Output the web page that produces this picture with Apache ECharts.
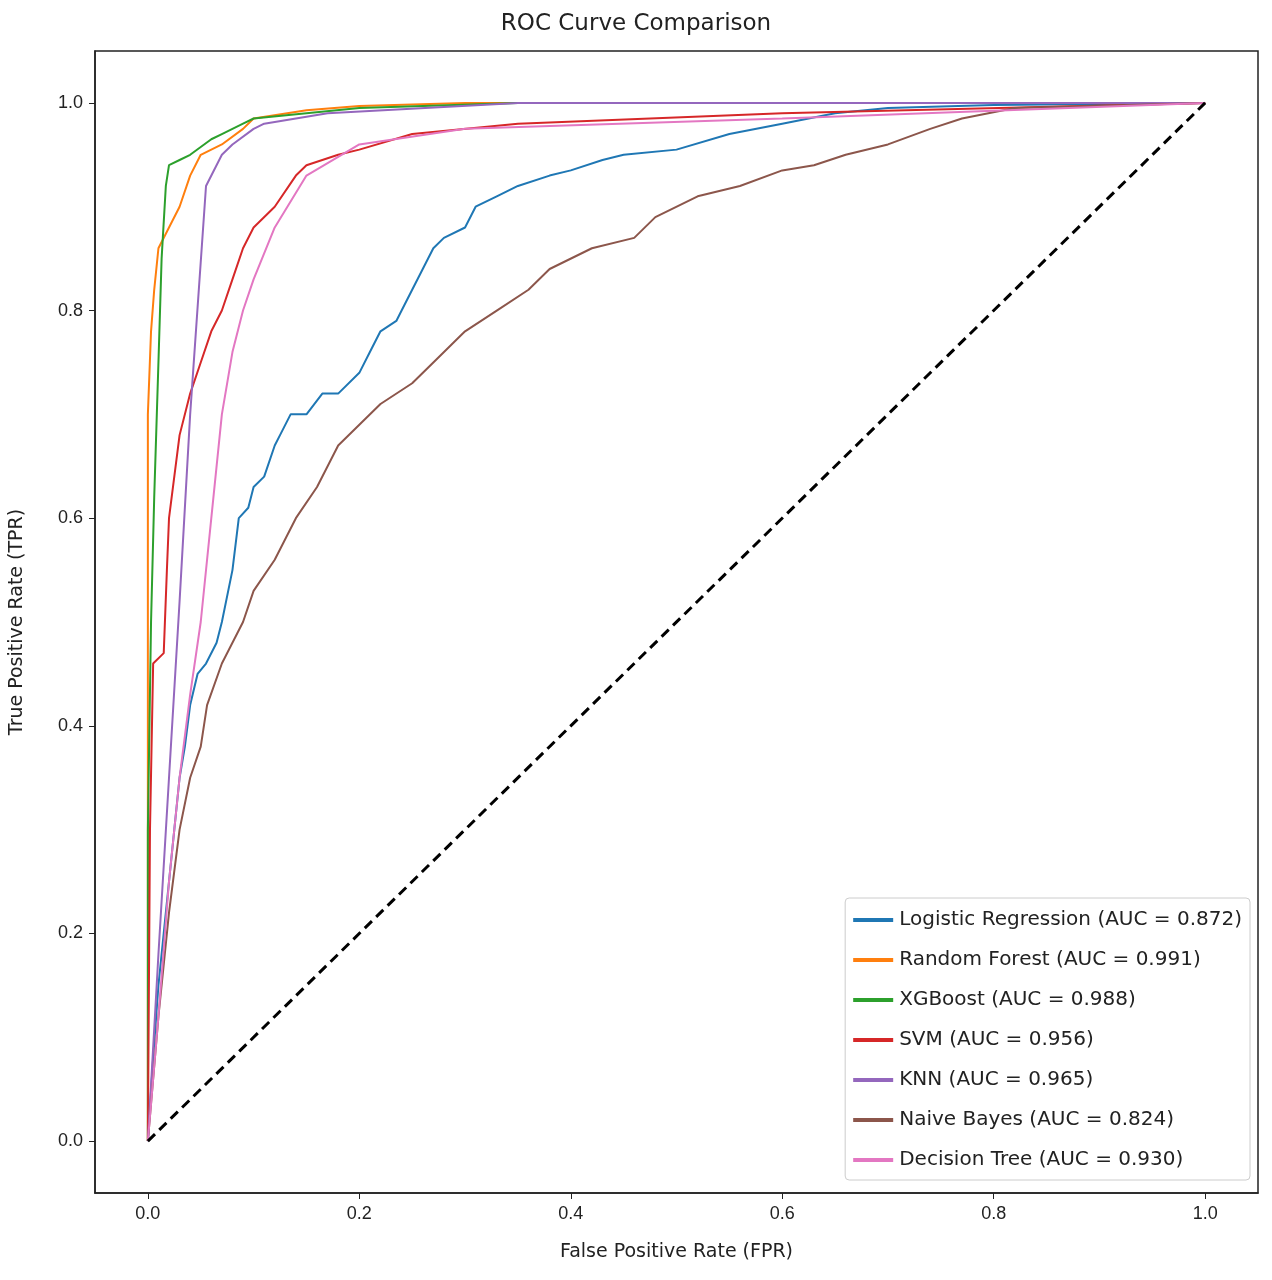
<!DOCTYPE html>
<html><head><meta charset="utf-8">
<script src="https://cdn.jsdelivr.net/npm/echarts@6/dist/echarts.min.js"></script>
<style>html,body{margin:0;padding:0;background:#fff}#c{width:1272px;height:1280px}</style>
</head><body><div id="c"></div>
<script>
const names = ["Logistic Regression (AUC = 0.872)","Random Forest (AUC = 0.991)","XGBoost (AUC = 0.988)","SVM (AUC = 0.956)","KNN (AUC = 0.965)","Naive Bayes (AUC = 0.824)","Decision Tree (AUC = 0.930)"];
const colors = ["#1f77b4","#ff7f0e","#2ca02c","#d62728","#9467bd","#8c564b","#e377c2"];
const lrFPR = [0,0.005,0.01,0.015,0.02,0.025,0.03,0.035,0.04,0.047,0.055,0.065,0.07,0.08,0.086,0.095,0.1,0.11,0.12,0.125,0.135,0.15,0.165,0.18,0.2,0.21,0.22,0.235,0.24,0.25,0.26,0.27,0.28,0.3,0.31,0.33,0.35,0.38,0.4,0.43,0.45,0.5,0.55,0.6,0.65,0.7,0.8,1];
const lrTPR = [0,0.08,0.15,0.2,0.25,0.3,0.35,0.38,0.42,0.45,0.46,0.48,0.5,0.55,0.6,0.61,0.63,0.64,0.67,0.68,0.7,0.7,0.72,0.72,0.74,0.76,0.78,0.79,0.8,0.82,0.84,0.86,0.87,0.88,0.9,0.91,0.92,0.93,0.935,0.945,0.95,0.955,0.97,0.98,0.99,0.995,0.998,1];
const rfFPR = [0,0,0.003,0.006,0.01,0.02,0.03,0.04,0.05,0.07,0.09,0.1,0.15,0.2,0.3,1];
const rfTPR = [0,0.7,0.78,0.82,0.86,0.88,0.9,0.93,0.95,0.96,0.975,0.985,0.993,0.997,1,1];
const xgFPR = [0,0,0.003,0.006,0.01,0.013,0.017,0.02,0.03,0.04,0.06,0.07,0.09,0.1,0.15,0.2,0.35,1];
const xgTPR = [0,0.3,0.5,0.62,0.75,0.85,0.92,0.94,0.945,0.95,0.965,0.97,0.98,0.985,0.99,0.995,1,1];
const svFPR = [0,0.002,0.005,0.015,0.018,0.02,0.03,0.04,0.05,0.06,0.07,0.08,0.09,0.1,0.12,0.14,0.15,0.18,0.2,0.25,0.35,0.6,1];
const svTPR = [0,0.3,0.46,0.47,0.55,0.6,0.68,0.72,0.75,0.78,0.8,0.83,0.86,0.88,0.9,0.93,0.94,0.95,0.955,0.97,0.98,0.99,1];
const knFPR = [0,0.01,0.02,0.03,0.04,0.055,0.07,0.08,0.1,0.11,0.17,0.35,1];
const knTPR = [0,0.18,0.35,0.52,0.7,0.92,0.95,0.96,0.975,0.98,0.99,1,1];
const nbFPR = [0,0.01,0.02,0.03,0.04,0.05,0.056,0.07,0.09,0.1,0.12,0.14,0.16,0.18,0.2,0.22,0.25,0.27,0.3,0.33,0.36,0.38,0.42,0.46,0.48,0.52,0.56,0.6,0.63,0.66,0.7,0.74,0.77,0.82,1];
const nbTPR = [0,0.12,0.22,0.3,0.35,0.38,0.42,0.46,0.5,0.53,0.56,0.6,0.63,0.67,0.69,0.71,0.73,0.75,0.78,0.8,0.82,0.84,0.86,0.87,0.89,0.91,0.92,0.935,0.94,0.95,0.96,0.975,0.985,0.995,1];
const dtFPR = [0,0.01,0.02,0.03,0.04,0.05,0.06,0.07,0.08,0.09,0.1,0.12,0.15,0.2,0.3,0.6,1];
const dtTPR = [0,0.12,0.25,0.35,0.43,0.5,0.6,0.7,0.76,0.8,0.83,0.88,0.93,0.96,0.975,0.985,1];
const xs=[lrFPR,rfFPR,xgFPR,svFPR,knFPR,nbFPR,dtFPR], ys=[lrTPR,rfTPR,xgTPR,svTPR,knTPR,nbTPR,dtTPR];
const xTicks=[0,0.2,0.4,0.6,0.8,1.0];
const series = names.map((n,i)=>({name:n,type:'line',showSymbol:false,color:colors[i],lineStyle:{width:2,color:colors[i]},data:xs[i].map((x,j)=>[x,ys[i][j]])}));
series.push({name:'chance',type:'line',showSymbol:false,lineStyle:{color:'#000',width:3,type:[10,6]},data:[[0,0],[1,1]]});
const ch=echarts.init(document.getElementById('c'));
const ax=(name,gap)=>({type:'value',min:-0.05,max:1.05,name,nameLocation:'middle',nameGap:gap,nameTextStyle:{fontSize:19,color:'#222',fontFamily:'DejaVu Sans'},
   splitLine:{show:false},axisLine:{show:true,onZero:false,lineStyle:{color:'#222',width:1.5}},axisTick:{show:true,inside:false,customValues:xTicks,length:6,lineStyle:{color:'#222'}},
   axisLabel:{customValues:xTicks,fontSize:18,color:'#222',margin:12,formatter:v=>v.toFixed(1)}});
ch.setOption({
 animation:false,
 title:{text:'ROC Curve Comparison',left:'center',top:8,textStyle:{fontFamily:'DejaVu Sans',fontWeight:'normal',fontSize:23,color:'#222'}},
 grid:{left:88,right:14,top:51,bottom:87,show:true,borderColor:'#222',borderWidth:1.5},
 xAxis:ax('False Positive Rate (FPR)',50),
 yAxis:ax('True Positive Rate (TPR)',68),
 legend:{data:names.map((n,i)=>({name:n,icon:'path://M0,0H40V4H0Z',itemStyle:{color:colors[i]}})),orient:'vertical',right:22,bottom:100,itemWidth:42,itemHeight:4,itemGap:20,
   backgroundColor:'#fff',borderColor:'#ccc',borderWidth:1,borderRadius:4,padding:[12,8,10,8],
   textStyle:{fontSize:20,color:'#222',fontFamily:'DejaVu Sans'}},
 series
});
</script></body></html>
